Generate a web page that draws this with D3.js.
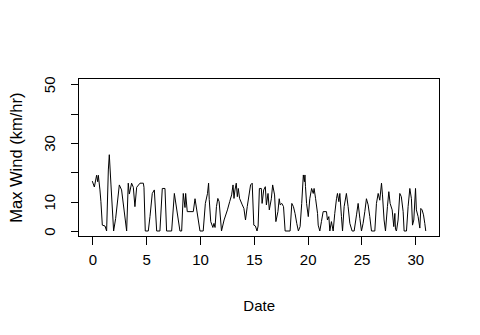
<!DOCTYPE html>
<html>
<head>
<meta charset="utf-8">
<script src="https://cdn.jsdelivr.net/npm/d3@7"></script>
<style>
html,body{margin:0;padding:0;background:#fff;}
svg{display:block;}
text{font-family:"Liberation Sans",Arial,sans-serif;font-size:15px;fill:#000;}
</style>
</head>
<body>
<script>
const days = [0.00,0.19,0.40,0.50,0.56,0.71,0.80,0.93,1.18,1.33,1.49,1.58,1.73,1.98,2.17,2.51,2.72,3.19,3.34,3.44,3.65,3.81,3.96,4.12,4.43,4.74,4.80,4.92,5.20,5.36,5.57,5.76,5.98,6.28,6.50,6.75,6.90,7.37,7.62,8.14,8.30,8.45,8.61,8.67,8.82,9.38,9.54,10.00,10.30,10.50,10.70,10.80,10.86,11.00,11.20,11.30,11.40,11.53,11.66,11.78,12.00,12.24,12.55,12.76,12.94,13.07,13.16,13.25,13.37,13.47,13.56,13.68,13.93,14.08,14.23,14.39,14.70,14.85,15.00,15.15,15.30,15.40,15.52,15.70,15.77,15.92,16.07,16.17,16.32,16.44,16.63,16.75,16.93,17.05,17.24,17.36,17.45,17.60,17.76,17.91,18.37,18.53,18.68,18.83,18.99,19.14,19.30,19.45,19.60,19.70,19.75,19.80,19.90,20.06,20.20,20.37,20.52,20.60,20.74,20.92,20.98,21.13,21.28,21.44,21.75,21.84,21.97,22.06,22.21,22.37,22.52,22.68,22.77,22.90,22.99,23.14,23.24,23.39,23.60,23.76,23.92,24.13,24.32,24.54,24.69,24.85,25.00,25.15,25.31,25.46,25.62,25.77,25.93,26.24,26.39,26.55,26.70,26.86,26.95,27.10,27.23,27.41,27.54,27.66,27.85,28.00,28.10,28.16,28.25,28.40,28.56,28.70,28.87,28.96,29.18,29.33,29.49,29.64,29.74,29.86,30.02,30.10,30.26,30.42,30.51,30.63,30.76,30.88,30.97];
const maxWind = [17,15,19,16.8,19,14,10,2,1.7,0,20.8,26,16,0,4.3,15.7,14,0,16.3,12.6,16.3,14.9,8.3,14.9,16.3,16.3,14.9,0,0,5,12.8,14,0,0,14.5,14.5,0,0,12.8,0,0,12.8,8,12.8,6.6,6.6,11,0,0,9.4,12.8,16.3,10.8,3.2,1.2,2.6,1.2,8.3,11.1,10,0,3.75,7.2,10,12.3,15.7,11.1,14,16.3,11.7,14.5,11.1,8.9,7.7,3.75,8.3,15.7,16.3,2,1.7,0,1.7,14.5,14.5,9.4,14,15.1,8.9,12.8,7.2,11,15.7,12.3,3.2,6.6,11,8.9,9.4,8.3,0,0,9.4,8.3,6,2.6,0,1.5,9.4,19.1,16.8,19.1,15.1,9.4,4.9,11,14.5,12.8,14.5,11,6,2,0,3.2,6.6,6.6,3.75,4.9,0,3.2,0,6,11,12.8,10,12.8,4.9,0,8.3,12.8,8.3,2.6,0,0,5.5,9.4,4.3,0,2.6,6.6,11,8.9,4.9,0,0,9.4,12.8,10.5,16.3,12.3,3.75,0,8.3,13.4,9.4,7.2,1.5,6,0.5,0,3.75,12.8,11.7,6.6,0,0,8.3,14.5,11,2,3.75,14.5,7.2,4.9,1,7.7,7.2,5.5,2.6,0];
const xTicks = [0,5,10,15,20,25,30];
const yTicks = [0,10,20,30,40,50];
const yTickLabels = ["0","10","","30","","50"];
const xTitle = "Date";
const yTitle = "Max Wind (km/hr)";

const W = 480, H = 335;
const svg = d3.select("body").append("svg").attr("width", W).attr("height", H);

const x = d3.scaleLinear().domain([0, 31]).range([92.3, 92.3 + 31 * 10.767]);
const y = d3.scaleLinear().domain([0, 50]).range([231, 84.3]);

const x0 = x(-1.24), x1 = x(32.24), y0 = y(-2), y1 = y(52);

// box
svg.append("rect").attr("x", x0).attr("y", y1).attr("width", x1 - x0).attr("height", y0 - y1)
  .attr("fill", "none").attr("stroke", "#000").attr("stroke-width", 1).attr("shape-rendering", "crispEdges");

// x axis
const xAxis = d3.axisBottom(x).tickValues(xTicks).tickSize(8).tickPadding(9).tickFormat(d3.format("d"));
const gx = svg.append("g").attr("transform", `translate(0,${y0})`).call(xAxis);
gx.select(".domain").attr("d", `M${x(0)},0H${x(30)}`).attr("shape-rendering", "crispEdges");
gx.selectAll(".tick line").attr("shape-rendering", "crispEdges");
gx.selectAll("text").style("font-size", "15px").style("font-family", "'Liberation Sans',Arial,sans-serif").attr("fill", "#000");

// y axis
const yAxis = d3.axisLeft(y).tickValues(yTicks).tickSize(8).tickFormat((d, i) => yTickLabels[i]);
const gy = svg.append("g").attr("transform", `translate(${x0},0)`).call(yAxis);
gy.select(".domain").attr("d", `M0,${y(0)}V${y(50)}`).attr("shape-rendering", "crispEdges");
gy.selectAll(".tick line").attr("shape-rendering", "crispEdges");
gy.selectAll(".tick text")
  .attr("x", null).attr("dy", null)
  .attr("text-anchor", "middle")
  .attr("transform", `translate(${55 - x0},0) rotate(-90)`)
  .attr("y", 0)
  .style("font-size", "15px").style("font-family", "'Liberation Sans',Arial,sans-serif").attr("fill", "#000");

// line
const line = d3.line().x((d, i) => x(days[i])).y(d => y(d));
svg.append("path").datum(maxWind).attr("d", line)
  .attr("fill", "none").attr("stroke", "#000").attr("stroke-width", 1).attr("stroke-linejoin", "miter");

// titles
svg.append("text").attr("x", (x0 + x1) / 2).attr("y", 311).attr("text-anchor", "middle").text(xTitle);
svg.append("text").attr("transform", `translate(21.5,${(y0 + y1) / 2}) rotate(-90)`).attr("text-anchor", "middle").style("font-size", "16.5px").text(yTitle);
</script>
</body>
</html>
